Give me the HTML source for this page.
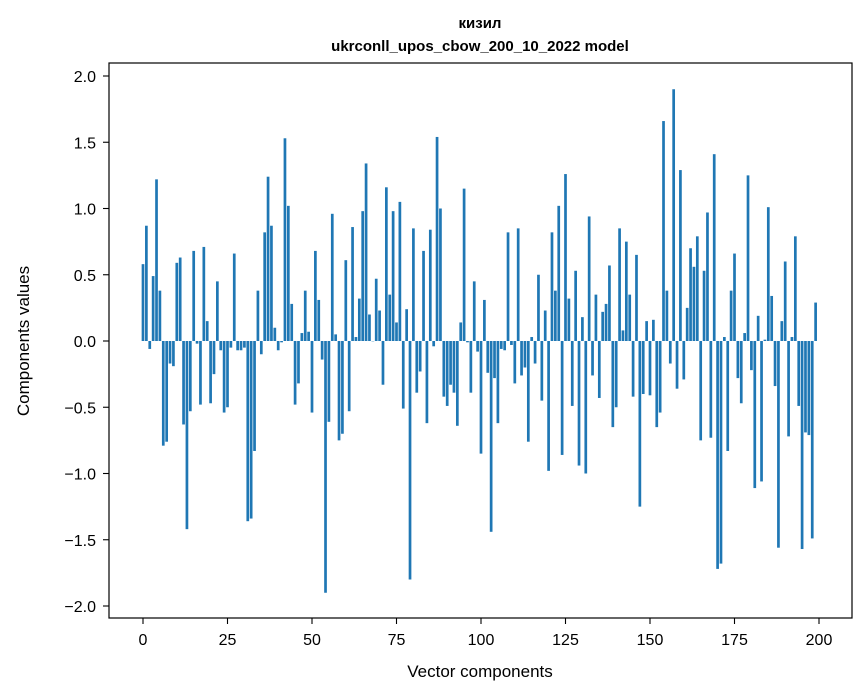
<!DOCTYPE html>
<html><head><meta charset="utf-8"><style>
html,body{margin:0;padding:0;background:#fff;}
svg{display:block;font-family:"Liberation Sans","DejaVu Sans",sans-serif;}
</style></head><body>
<svg id="chart" width="867" height="696" viewBox="0 0 867 696">
<rect x="0" y="0" width="867" height="696" fill="#fff"/>
<text x="480" y="28" text-anchor="middle" font-size="15" font-weight="bold">кизил</text>
<text x="480" y="51" text-anchor="middle" font-size="15" font-weight="bold">ukrconll_upos_cbow_200_10_2022 model</text>
<g id="bars"></g>
<g id="xticks"></g>
<g id="yticks"></g>
<rect x="109" y="63" width="743" height="555" fill="none" stroke="#000" stroke-width="1.2"/>
<text x="480" y="677" text-anchor="middle" font-size="17">Vector components</text>
<text x="0" y="0" transform="translate(29,341) rotate(-90)" text-anchor="middle" font-size="17">Components values</text>
</svg>
<script>
const values = [
0.58,0.87,-0.06,0.49,1.22,0.38,-0.79,-0.76,-0.17,-0.19,
0.59,0.63,-0.63,-1.42,-0.53,0.68,-0.02,-0.48,0.71,0.15,
-0.47,-0.25,0.45,-0.07,-0.54,-0.50,-0.05,0.66,-0.07,-0.07,
-0.05,-1.36,-1.34,-0.83,0.38,-0.10,0.82,1.24,0.87,0.10,
-0.07,-0.01,1.53,1.02,0.28,-0.48,-0.32,0.06,0.38,0.07,
-0.54,0.68,0.31,-0.14,-1.90,-0.61,0.96,0.05,-0.75,-0.70,
0.61,-0.53,0.86,0.03,0.32,0.98,1.34,0.20,0.0,0.47,
0.23,-0.33,1.16,0.35,0.98,0.14,1.05,-0.51,0.24,-1.80,
0.85,-0.39,-0.23,0.68,-0.62,0.84,-0.04,1.54,1.00,-0.42,
-0.49,-0.33,-0.39,-0.64,0.14,1.15,-0.01,-0.39,0.45,-0.08,
-0.85,0.31,-0.24,-1.44,-0.28,-0.62,-0.06,-0.07,0.82,-0.03,
-0.32,0.85,-0.26,-0.20,-0.76,0.03,-0.17,0.50,-0.45,0.23,
-0.98,0.82,0.38,1.02,-0.86,1.26,0.32,-0.49,0.53,-0.94,
0.18,-1.00,0.94,-0.26,0.35,-0.43,0.22,0.28,0.57,-0.65,
-0.50,0.85,0.08,0.75,0.35,-0.42,0.65,-1.25,-0.40,0.15,
-0.41,0.16,-0.65,-0.54,1.66,0.38,-0.17,1.90,-0.36,1.29,
-0.29,0.25,0.70,0.56,0.79,-0.75,0.53,0.97,-0.73,1.41,
-1.72,-1.68,0.03,-0.83,0.38,0.66,-0.28,-0.47,0.06,1.25,
-0.22,-1.11,0.19,-1.06,0.01,1.01,0.34,-0.34,-1.56,0.15,
0.60,-0.72,0.03,0.79,-0.49,-1.57,-0.69,-0.71,-1.49,0.29
];
const xTickValues = [0,25,50,75,100,125,150,175,200];
const yTickValues = [-2.0,-1.5,-1.0,-0.5,0.0,0.5,1.0,1.5,2.0];
const yTickLabels = ["\u22122.0","\u22121.5","\u22121.0","\u22120.5","0.0","0.5","1.0","1.5","2.0"];

const NS = "http://www.w3.org/2000/svg";
function xScale(v){ return 143 + v * 3.38; }
function yScale(v){ return 341 - v * 132.5; }

const barsG = document.getElementById('bars');
values.forEach(function(v, i){
  const r = document.createElementNS(NS, 'rect');
  const w = 0.8 * 3.38;
  const y0 = yScale(0), y1 = yScale(v);
  r.setAttribute('x', xScale(i) - w / 2);
  r.setAttribute('y', Math.min(y0, y1));
  r.setAttribute('width', w);
  r.setAttribute('height', Math.max(Math.abs(y1 - y0), 0.3));
  r.setAttribute('fill', '#1f77b4');
  
  
  barsG.appendChild(r);
});

const xg = document.getElementById('xticks');
xTickValues.forEach(function(t){
  const x = xScale(t);
  const l = document.createElementNS(NS, 'line');
  l.setAttribute('x1', x); l.setAttribute('x2', x);
  l.setAttribute('y1', 618); l.setAttribute('y2', 624);
  l.setAttribute('stroke', '#000'); l.setAttribute('stroke-width', '1.1');
  
  
  xg.appendChild(l);
  const tx = document.createElementNS(NS, 'text');
  tx.setAttribute('x', x); tx.setAttribute('y', 645);
  tx.setAttribute('text-anchor', 'middle'); tx.setAttribute('font-size', '16');
  tx.textContent = String(t);
  
  
  xg.appendChild(tx);
});

const yg = document.getElementById('yticks');
yTickValues.forEach(function(t, i){
  const y = yScale(t);
  const l = document.createElementNS(NS, 'line');
  l.setAttribute('x1', 103); l.setAttribute('x2', 109);
  l.setAttribute('y1', y); l.setAttribute('y2', y);
  l.setAttribute('stroke', '#000'); l.setAttribute('stroke-width', '1.1');
  
  
  yg.appendChild(l);
  const tx = document.createElementNS(NS, 'text');
  tx.setAttribute('x', 96); tx.setAttribute('y', y + 6);
  tx.setAttribute('text-anchor', 'end'); tx.setAttribute('font-size', '16');
  tx.textContent = yTickLabels[i];
  
  
  yg.appendChild(tx);
});
</script>
</body></html>
